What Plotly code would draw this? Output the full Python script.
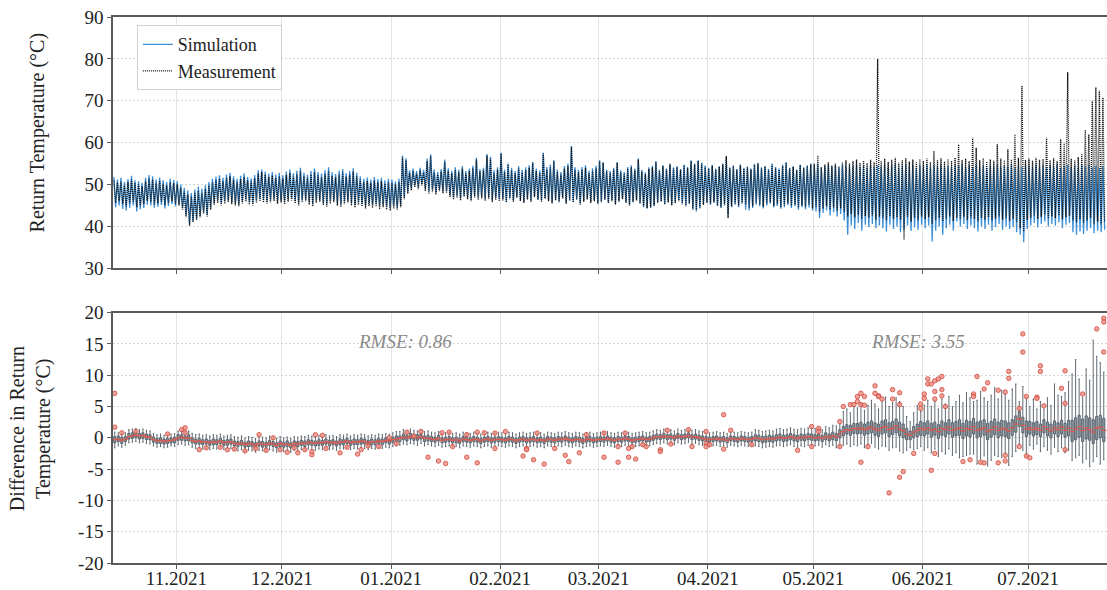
import pandas as pd
import plotly.graph_objects as go

# ---------------------------------------------------------------------------
# Daily data, 14.10.2021 - 22.07.2022 (one entry per day)
# ---------------------------------------------------------------------------
start_day = "2021-10-14"
n_days = 282

month_ticks = ["2021-11-01", "2021-12-01", "2022-01-01", "2022-02-01", "2022-03-01",
               "2022-04-01", "2022-05-01", "2022-06-01", "2022-07-01"]
month_labels = ["11.2021", "12.2021", "01.2021", "02.2021", "03.2021",
                "04.2021", "05.2021", "06.2021", "07.2021"]

# daily maximum / minimum of the measured return temperature (degC)
meas_hi = [
    51.0, 50.5, 50.8, 49.8, 50.6, 51.2, 50.4, 50.0, 49.6, 50.8, 51.5, 51.2, 50.4, 50.9, 50.2, 49.8, 50.6, 50.3,
    50.0, 49.2, 48.3, 47.6, 47.2, 47.9, 48.5, 48.0, 49.0, 49.8, 50.6, 51.0, 51.4, 50.8, 51.6, 52.0, 51.2, 50.6, 51.3, 51.8, 51.0, 50.7, 51.5, 52.6, 53.0, 52.4, 51.8, 52.2, 51.6, 52.0,
    51.4, 52.3, 52.8, 51.9, 52.5, 53.2, 52.0, 51.6, 52.4, 53.0, 52.2, 51.8, 52.6, 53.3, 52.1, 51.7, 52.5, 52.9, 51.9, 52.4, 53.1, 52.0, 51.2, 50.6, 50.9, 50.4, 51.0, 50.5, 50.8, 50.2, 50.6,
    50.4, 50.0, 50.6, 56.5, 55.8, 52.8, 53.2, 52.6, 53.4, 52.9, 55.6, 56.8, 53.0, 52.4, 53.1, 55.4, 53.3, 52.7, 53.5, 52.9, 53.8, 52.6, 53.2, 53.9, 56.0, 53.1, 53.4, 56.9, 56.2, 52.8, 53.5,
    57.4, 53.0, 54.8, 53.4, 52.6, 53.8, 52.9, 53.5, 54.0, 55.2, 53.2, 52.8, 57.4, 53.6, 54.2, 55.6, 53.0, 52.4, 53.8, 54.4, 59.0, 53.5, 52.9, 53.6, 54.0, 52.7, 53.3, 53.9,
    55.6, 55.2, 53.2, 52.8, 53.6, 55.2, 53.0, 52.6, 53.8, 54.2, 53.4, 56.0, 53.1, 52.5, 53.7, 54.1, 55.4, 53.2, 54.4, 53.6, 54.8, 53.9, 54.2, 53.5, 54.6, 54.0, 55.6, 54.8, 55.6, 55.0, 54.3,
    53.8, 54.5, 53.6, 54.2, 54.8, 56.8, 53.9, 54.4, 53.5, 54.6, 53.8, 54.1, 53.6, 54.7, 55.0, 53.9, 54.3, 53.5, 54.8, 54.0, 53.6, 54.5, 55.2, 53.8, 54.2, 53.4, 54.6, 53.9, 54.4, 54.8,
    55.0, 57.0, 54.2, 54.8, 55.3, 54.6, 55.0, 54.4, 55.4, 55.8, 55.0, 55.6, 56.0, 55.2, 55.7, 55.1, 55.9, 55.4, 80.0, 55.6, 56.2, 55.4, 55.9, 56.4, 55.2, 55.8, 56.3, 55.5, 56.0, 55.3, 56.1,
    55.6, 56.2, 55.4, 58.0, 55.8, 56.3, 55.5, 56.1, 55.7, 56.4, 59.6, 55.9, 56.2, 55.6, 61.2, 58.8, 55.8, 56.3, 55.5, 56.0, 55.7, 59.6, 56.2, 55.8, 58.4, 56.0, 62.0, 56.4, 73.6, 55.9,
    56.2, 55.7, 56.4, 55.9, 56.1, 61.2, 55.8, 56.3, 55.6, 60.8, 60.0, 76.8, 56.2, 55.8, 56.6, 57.2, 63.0, 62.0, 70.0, 73.2, 72.4, 70.8,
]
meas_lo = [
    45.6, 46.0, 45.4, 44.8, 45.5, 45.9, 44.6, 45.0, 45.3, 46.1, 45.8, 45.2, 45.5, 45.9, 45.1, 45.6, 46.0, 45.4,
    45.0, 44.0, 42.2, 40.2, 41.0, 41.6, 42.2, 43.0, 42.4, 44.0, 45.2, 45.6, 45.0, 45.4, 45.8, 45.3, 45.0, 44.8, 45.5, 45.9, 45.2, 45.0, 45.6, 46.0, 45.7, 45.5, 45.8, 46.1, 45.4, 45.7,
    45.3, 45.9, 46.2, 45.5, 45.0, 45.8, 46.0, 45.2, 44.8, 45.6, 45.9, 45.1, 44.7, 45.4, 45.8, 45.0, 44.6, 45.3, 45.7, 45.0, 44.5, 45.2, 44.8, 44.3, 44.9, 44.4, 44.7, 44.2, 44.6, 44.0, 43.8,
    44.2, 43.9, 44.6, 46.5, 47.8, 48.6, 49.4, 48.9, 49.8, 48.5, 47.8, 48.2, 47.6, 48.4, 47.9, 48.0, 47.0, 46.4, 46.8, 46.2, 47.1, 46.5, 46.0, 46.9, 46.3, 46.7, 46.1, 46.6, 45.8, 46.4, 46.0,
    46.2, 45.7, 46.5, 45.9, 46.8, 46.1, 45.6, 46.4, 45.8, 47.0, 46.3, 45.9, 46.6, 46.0, 45.5, 46.2, 45.8, 46.7, 45.4, 46.1, 45.7, 46.3, 45.2, 45.9, 46.4, 45.6, 46.0, 45.3,
    45.8, 46.4, 45.5, 46.0, 45.2, 45.9, 46.5, 45.6, 45.0, 45.8, 46.2, 45.4, 44.8, 44.4, 44.6, 45.0, 45.6, 45.9, 45.2, 45.7, 45.0, 45.5, 46.0, 45.3, 44.8, 45.4, 44.2, 44.0, 44.5, 45.1, 45.6,
    45.4, 45.9, 45.0, 44.6, 45.3, 42.0, 44.8, 45.5, 45.0, 45.7, 45.2, 44.4, 44.8, 45.6, 45.1, 44.7, 45.4, 45.8, 44.9, 45.3, 44.6, 45.0, 45.5, 44.8, 45.2, 44.5, 45.0, 44.6, 45.1, 44.3,
    44.6, 43.4, 44.2, 44.8, 44.0, 44.5, 43.8, 44.3, 43.5, 42.4, 43.0, 42.2, 42.8, 41.8, 42.5, 42.0, 42.6, 41.6, 42.3, 42.0, 41.5, 42.4, 41.8, 42.2, 41.6, 36.8, 42.3, 41.2, 42.0, 41.5, 42.4,
    41.8, 42.2, 40.6, 41.5, 42.0, 41.2, 41.8, 42.4, 41.3, 42.0, 41.7, 42.3, 41.5, 42.1, 41.8, 41.2, 42.0, 41.6, 42.2, 41.4, 41.9, 42.3, 41.6, 42.0, 41.3, 41.8, 41.0, 39.5, 38.8, 41.6,
    42.0, 42.5, 41.8, 42.3, 42.8, 41.9, 42.4, 42.0, 42.6, 41.7, 42.2, 42.5, 41.5, 41.0, 41.8, 40.8, 41.4, 42.0, 40.6, 41.2, 40.5, 41.0,
]

# daily maximum / minimum of the simulated return temperature (degC)
sim_hi = [
    51.8, 51.2, 51.6, 50.6, 51.3, 52.1, 51.0, 50.8, 50.4, 51.6, 52.3, 52.0, 51.2, 51.7, 51.0, 50.6, 51.4, 51.1,
    50.8, 50.0, 49.2, 48.6, 48.0, 48.8, 49.5, 49.0, 49.8, 50.6, 51.4, 51.9, 52.2, 51.6, 52.4, 52.8, 52.0, 51.4, 52.1, 52.6, 51.8, 51.5, 52.3, 53.4, 53.6, 53.1, 52.6, 53.0, 52.4, 52.8,
    52.2, 53.1, 53.6, 52.7, 53.3, 54.0, 52.8, 52.4, 53.2, 53.8, 53.0, 52.6, 53.4, 54.1, 52.9, 52.5, 53.3, 53.7, 52.7, 53.2, 53.9, 52.8, 52.0, 51.4, 51.7, 51.2, 51.8, 51.3, 51.6, 51.0, 51.4,
    51.2, 50.8, 51.4, 56.9, 56.3, 53.4, 53.8, 53.2, 54.0, 53.5, 56.2, 57.2, 53.6, 53.0, 53.7, 56.0, 53.9, 53.3, 54.1, 53.5, 54.4, 53.2, 53.8, 54.5, 56.4, 53.7, 54.0, 57.3, 56.6, 53.4, 54.1,
    57.6, 53.6, 55.0, 54.0, 53.2, 54.4, 53.5, 54.1, 54.6, 55.4, 53.8, 53.4, 57.6, 54.2, 54.8, 55.8, 53.6, 53.0, 54.4, 55.0, 59.2, 54.1, 53.5, 54.2, 54.6, 53.3, 53.9, 54.5,
    55.8, 55.4, 53.6, 53.2, 54.0, 55.4, 53.4, 53.0, 54.2, 54.6, 53.8, 56.2, 53.5, 52.9, 54.1, 54.5, 55.6, 53.6, 54.6, 53.8, 55.0, 54.1, 54.4, 53.7, 54.8, 54.2, 55.8, 55.0, 55.8, 55.2, 54.5,
    54.0, 54.7, 53.8, 54.4, 55.0, 56.4, 54.1, 54.6, 53.7, 54.8, 54.0, 54.3, 53.8, 54.9, 55.2, 54.1, 54.5, 53.7, 55.0, 54.2, 53.8, 54.7, 55.4, 54.0, 54.4, 53.6, 54.8, 54.1, 54.6, 55.0,
    54.6, 55.0, 54.0, 54.5, 54.8, 54.2, 54.6, 54.0, 54.8, 54.4, 54.0, 54.5, 54.8, 54.1, 54.6, 54.0, 54.7, 54.2, 54.6, 54.3, 54.8, 54.1, 54.6, 54.9, 54.0, 54.5, 54.8, 54.2, 54.6, 54.0, 54.7,
    54.3, 54.8, 54.0, 54.6, 54.2, 54.9, 54.1, 54.5, 54.0, 54.7, 54.4, 54.9, 54.2, 54.6, 54.1, 54.8, 54.3, 54.6, 54.0, 54.5, 54.2, 54.8, 54.1, 54.6, 54.3, 54.9, 54.0, 54.4, 54.2, 54.7,
    54.5, 54.0, 54.8, 54.2, 54.6, 54.1, 54.7, 54.3, 54.9, 54.0, 54.5, 54.8, 54.2, 54.6, 54.0, 54.7, 54.3, 54.8, 54.1, 54.5, 54.0, 54.4,
]
sim_lo = [
    44.6, 45.0, 44.2, 43.8, 44.5, 45.0, 43.6, 44.1, 44.4, 45.2, 45.0, 44.5, 44.7, 45.1, 44.3, 44.9, 45.3, 44.8,
    45.4, 44.6, 42.8, 40.6, 41.2, 41.8, 42.6, 43.4, 42.8, 44.6, 45.8, 46.2, 45.6, 46.0, 46.4, 45.9, 45.6, 45.4, 46.1, 46.5, 45.8, 45.6, 46.2, 46.6, 46.3, 46.1, 46.4, 46.7, 46.0, 46.3,
    46.0, 46.5, 46.8, 46.1, 45.7, 46.4, 46.6, 45.9, 45.5, 46.2, 46.5, 45.8, 45.4, 46.0, 46.4, 45.7, 45.3, 46.0, 46.3, 45.7, 45.2, 45.9, 45.5, 45.0, 45.6, 45.1, 45.4, 44.9, 45.3, 44.8, 44.6,
    44.8, 44.5, 45.2, 47.0, 48.3, 49.2, 49.9, 49.4, 50.2, 49.0, 48.4, 48.8, 48.1, 48.9, 48.4, 48.5, 47.6, 47.0, 47.4, 46.8, 47.6, 47.0, 46.6, 47.4, 46.9, 47.2, 46.6, 47.1, 46.4, 46.9, 46.5,
    46.5, 46.0, 46.8, 46.2, 47.0, 46.4, 45.9, 46.6, 46.1, 47.2, 46.5, 46.2, 46.8, 46.3, 45.8, 46.5, 46.0, 46.9, 45.7, 46.4, 46.0, 46.5, 45.5, 46.2, 46.6, 45.9, 46.3, 45.6,
    46.0, 46.6, 45.8, 46.2, 45.5, 46.1, 46.7, 45.9, 45.2, 46.0, 46.4, 45.6, 44.6, 44.2, 44.4, 44.8, 45.8, 46.1, 45.4, 45.9, 45.2, 45.7, 46.2, 45.5, 45.0, 45.6, 44.0, 43.6, 44.3, 45.3, 45.8,
    45.2, 45.6, 44.8, 44.4, 45.0, 43.0, 44.6, 45.2, 44.6, 45.4, 44.0, 43.8, 44.4, 45.2, 44.8, 44.3, 45.0, 45.4, 44.5, 44.9, 44.2, 44.6, 45.1, 44.4, 44.8, 44.0, 44.6, 44.1, 44.5, 43.8,
    43.6, 42.0, 43.2, 43.8, 42.6, 43.4, 42.4, 43.0, 41.4, 38.0, 40.2, 39.4, 40.8, 39.0, 40.4, 39.8, 40.6, 39.6, 40.2, 39.6, 38.8, 40.4, 39.4, 40.0, 38.6, 39.2, 40.2, 38.9, 39.8, 39.2, 40.4,
    39.6, 40.2, 36.4, 39.0, 40.0, 38.0, 39.6, 40.4, 39.0, 41.2, 40.0, 40.6, 39.4, 40.2, 39.6, 38.8, 40.0, 39.4, 40.4, 39.0, 39.8, 40.6, 39.2, 40.0, 39.4, 39.8, 38.6, 38.0, 36.2, 39.4,
    40.2, 40.8, 39.8, 40.6, 41.2, 40.0, 40.6, 40.2, 41.0, 39.6, 40.4, 40.8, 38.6, 38.0, 38.8, 38.2, 39.0, 39.6, 38.4, 39.0, 38.6, 39.2,
]

# daily distribution of the temperature difference (degC): quartiles and whiskers
diff_median = [
    -0.3, -0.2, -0.4, -0.2, 0.2, 0.3, 0.4, 0.3, 0.4, 0.2, 0.1, -0.3, -0.5, -0.4, -0.6, -0.5, -0.4, -0.3,
    0.0, 0.1, -0.1, 0.0, -0.4, -0.6, -0.5, -0.7, -0.6, -0.8, -0.6, -0.7, -0.5, -0.8, -0.7, -0.6, -0.9, -1.0, -0.8, -1.1, -0.9, -1.0, -1.2, -0.9, -1.0, -1.1, -0.8, -1.0, -1.2, -0.9,
    -1.1, -1.0, -1.2, -0.9, -1.0, -0.8, -0.9, -0.7, -0.8, -0.9, -0.7, -0.8, -0.6, -0.8, -0.7, -0.9, -0.6, -0.7, -0.5, -0.8, -0.6, -0.7, -0.5, -0.6, -0.8, -0.6, -0.7, -0.5, -0.6, -0.4, -0.5,
    -0.3, -0.2, -0.1, 0.1, 0.0, 0.2, 0.1, 0.0, 0.2, -0.1, 0.0, -0.2, -0.3, -0.1, -0.4, -0.3, -0.2, -0.4, -0.3, -0.5, -0.2, -0.3, -0.4, -0.2, -0.3, -0.5, -0.3, -0.2, -0.4, -0.3, -0.2,
    -0.3, -0.4, -0.2, -0.3, -0.5, -0.3, -0.2, -0.4, -0.3, -0.2, -0.4, -0.3, -0.5, -0.2, -0.3, -0.4, -0.2, -0.3, -0.1, -0.3, -0.4, -0.2, -0.3, -0.5, -0.3, -0.2, -0.4, -0.3,
    -0.2, -0.3, -0.1, -0.3, -0.4, -0.2, -0.3, -0.1, -0.2, -0.4, -0.3, -0.2, -0.1, -0.3, -0.2, 0.0, 0.2, 0.1, 0.3, 0.1, 0.2, 0.0, 0.3, 0.1, 0.2, 0.4, 0.1, 0.2, 0.0, -0.1, -0.2,
    -0.3, -0.2, -0.1, -0.3, -0.2, -0.4, -0.1, -0.2, -0.3, -0.1, -0.2, -0.3, -0.2, 0.0, -0.1, -0.3, -0.2, -0.1, -0.2, 0.0, 0.1, -0.1, 0.0, 0.2, 0.0, -0.1, 0.1, 0.0, 0.2, 0.1,
    0.0, 0.1, -0.1, 0.2, 0.0, 0.3, 0.1, 0.6, 1.0, 1.3, 1.2, 1.5, 1.4, 1.6, 1.3, 1.5, 1.7, 1.4, 1.2, 1.6, 1.8, 1.3, 1.5, 1.9, 1.4, 1.1, 0.6, 0.4, 0.9, 1.2, 1.5,
    1.3, 1.6, 1.2, 1.4, 1.0, 1.5, 1.3, 1.7, 1.2, 1.4, 1.6, 1.1, 1.5, 1.3, 1.8, 1.2, 1.4, 1.6, 1.0, 1.3, 1.7, 1.2, 1.5, 1.4, 1.1, 1.6, 2.2, 3.0, 2.0, 1.4,
    1.6, 1.3, 1.5, 1.2, 1.8, 1.4, 1.1, 1.6, 1.3, 1.7, 1.2, 1.5, 1.0, 1.4, 1.8, 1.2, 1.6, 1.3, 0.9, 1.5, 1.7, 1.2,
]
diff_q1 = [
    -0.8, -0.6, -0.9, -0.6, -0.2, -0.1, 0.0, -0.2, -0.1, -0.3, -0.3, -0.7, -0.9, -0.9, -1.0, -0.9, -0.8, -0.8,
    -0.4, -0.4, -0.5, -0.5, -0.8, -1.0, -1.0, -1.1, -1.0, -1.2, -1.1, -1.1, -0.9, -1.2, -1.2, -1.0, -1.3, -1.4, -1.2, -1.5, -1.4, -1.4, -1.6, -1.3, -1.5, -1.5, -1.2, -1.4, -1.6, -1.4,
    -1.5, -1.4, -1.6, -1.4, -1.4, -1.2, -1.4, -1.1, -1.2, -1.3, -1.2, -1.2, -1.0, -1.3, -1.1, -1.3, -1.1, -1.1, -0.9, -1.2, -1.1, -1.1, -1.0, -1.0, -1.2, -1.1, -1.1, -0.9, -1.1, -0.8, -1.0,
    -0.7, -0.6, -0.6, -0.3, -0.5, -0.2, -0.4, -0.4, -0.2, -0.6, -0.5, -0.6, -0.7, -0.5, -0.8, -0.7, -0.6, -0.8, -0.8, -0.9, -0.6, -0.7, -0.8, -0.6, -0.7, -0.9, -0.7, -0.6, -0.8, -0.7, -0.6,
    -0.7, -0.8, -0.6, -0.7, -0.9, -0.7, -0.6, -0.8, -0.7, -0.6, -0.8, -0.7, -0.9, -0.6, -0.7, -0.8, -0.6, -0.7, -0.5, -0.7, -0.8, -0.6, -0.7, -0.9, -0.7, -0.6, -0.8, -0.7,
    -0.6, -0.7, -0.5, -0.7, -0.8, -0.6, -0.7, -0.5, -0.6, -0.8, -0.7, -0.6, -0.5, -0.7, -0.6, -0.4, -0.2, -0.3, -0.1, -0.3, -0.2, -0.4, -0.1, -0.3, -0.2, 0.0, -0.3, -0.2, -0.4, -0.5, -0.6,
    -0.7, -0.6, -0.5, -0.7, -0.6, -0.8, -0.5, -0.6, -0.7, -0.5, -0.6, -0.7, -0.6, -0.5, -0.6, -0.8, -0.7, -0.6, -0.7, -0.5, -0.4, -0.6, -0.5, -0.3, -0.5, -0.6, -0.4, -0.5, -0.3, -0.4,
    -0.5, -0.4, -0.6, -0.3, -0.5, -0.3, -0.5, 0.0, 0.3, 0.6, 0.4, 0.7, 0.6, 0.7, 0.4, 0.6, 0.8, 0.4, 0.2, 0.6, 0.8, 0.2, 0.5, 0.8, 0.3, 0.0, -0.3, -0.3, 0.0, 0.2, 0.4,
    0.3, 0.6, 0.1, 0.4, -0.1, 0.4, 0.2, 0.6, 0.1, 0.3, 0.4, -0.1, 0.3, 0.1, 0.6, 0.0, 0.2, 0.4, -0.3, 0.1, 0.5, 0.0, 0.3, 0.2, -0.1, 0.4, 0.9, 1.8, 0.8, 0.2,
    0.6, 0.3, 0.5, 0.2, 0.8, 0.3, 0.0, 0.6, 0.2, 0.6, 0.1, 0.3, -0.6, -0.3, 0.1, -0.6, -0.2, -0.4, -0.9, -0.3, 0.0, -0.6,
]
diff_q3 = [
    0.2, 0.3, 0.1, 0.2, 0.7, 0.8, 0.9, 0.7, 0.8, 0.6, 0.5, 0.1, -0.1, 0.0, -0.2, -0.1, 0.0, 0.1,
    0.5, 0.5, 0.3, 0.5, 0.0, -0.2, -0.1, -0.3, -0.2, -0.4, -0.2, -0.3, -0.1, -0.4, -0.3, -0.2, -0.5, -0.6, -0.4, -0.7, -0.5, -0.6, -0.8, -0.5, -0.6, -0.7, -0.4, -0.6, -0.8, -0.5,
    -0.7, -0.5, -0.8, -0.5, -0.6, -0.4, -0.5, -0.3, -0.4, -0.5, -0.3, -0.4, -0.2, -0.4, -0.3, -0.5, -0.2, -0.3, -0.1, -0.4, -0.2, -0.3, -0.1, -0.2, -0.4, -0.2, -0.3, -0.1, -0.2, 0.0, -0.1,
    0.1, 0.3, 0.3, 0.6, 0.4, 0.7, 0.5, 0.5, 0.6, 0.3, 0.4, 0.2, 0.1, 0.4, 0.0, 0.1, 0.2, 0.0, 0.1, -0.1, 0.2, 0.1, 0.0, 0.2, 0.1, -0.1, 0.1, 0.2, 0.0, 0.1, 0.2,
    0.1, 0.0, 0.2, 0.1, -0.1, 0.1, 0.2, 0.0, 0.1, 0.2, 0.0, 0.1, -0.1, 0.2, 0.1, 0.0, 0.2, 0.1, 0.3, 0.1, 0.0, 0.2, 0.1, -0.1, 0.1, 0.2, 0.0, 0.1,
    0.2, 0.1, 0.3, 0.1, 0.0, 0.2, 0.1, 0.3, 0.2, 0.0, 0.1, 0.2, 0.3, 0.1, 0.2, 0.4, 0.6, 0.5, 0.7, 0.5, 0.6, 0.4, 0.7, 0.5, 0.6, 0.8, 0.5, 0.6, 0.4, 0.3, 0.2,
    0.1, 0.2, 0.3, 0.1, 0.2, 0.0, 0.3, 0.2, 0.1, 0.3, 0.2, 0.1, 0.2, 0.5, 0.4, 0.2, 0.3, 0.4, 0.3, 0.5, 0.6, 0.4, 0.5, 0.7, 0.5, 0.4, 0.6, 0.5, 0.7, 0.6,
    0.5, 0.6, 0.4, 0.8, 0.6, 0.9, 0.7, 1.3, 1.8, 2.1, 2.0, 2.3, 2.3, 2.5, 2.2, 2.5, 2.7, 2.4, 2.2, 2.7, 2.9, 2.4, 2.6, 3.0, 2.5, 2.2, 1.5, 1.1, 1.8, 2.2, 2.6,
    2.4, 2.7, 2.3, 2.5, 2.1, 2.7, 2.4, 2.9, 2.4, 2.6, 2.9, 2.3, 2.8, 2.6, 3.1, 2.5, 2.7, 2.9, 2.3, 2.6, 3.0, 2.5, 2.8, 2.7, 2.4, 2.9, 3.5, 4.2, 3.3, 2.7,
    2.6, 2.4, 2.6, 2.2, 2.9, 2.5, 2.2, 2.7, 2.4, 2.8, 2.3, 2.8, 2.8, 3.2, 3.6, 3.0, 3.5, 3.2, 2.9, 3.4, 3.6, 3.1,
]
diff_low = [
    -1.6, -1.3, -1.5, -1.2, -0.8, -0.7, -0.6, -0.8, -0.7, -0.9, -1.0, -1.3, -1.5, -1.4, -1.6, -1.5, -1.3, -1.4,
    -1.1, -1.0, -1.2, -1.1, -1.5, -1.7, -1.6, -1.8, -1.7, -1.9, -1.7, -1.8, -1.6, -1.9, -1.8, -1.7, -2.0, -2.1, -1.9, -2.2, -2.0, -2.1, -2.3, -2.0, -2.1, -2.2, -1.9, -2.1, -2.3, -2.0,
    -2.2, -2.1, -2.3, -2.0, -2.1, -1.9, -2.0, -1.8, -1.9, -2.0, -1.8, -1.9, -1.7, -1.9, -1.8, -2.0, -1.7, -1.8, -1.6, -1.9, -1.7, -1.8, -1.6, -1.7, -1.9, -1.7, -1.8, -1.6, -1.7, -1.5, -1.6,
    -1.4, -1.3, -1.2, -1.0, -1.1, -0.9, -1.0, -1.2, -0.9, -1.3, -1.1, -1.3, -1.4, -1.2, -1.5, -1.4, -1.3, -1.5, -1.4, -1.6, -1.3, -1.4, -1.5, -1.3, -1.4, -1.6, -1.4, -1.3, -1.5, -1.4, -1.3,
    -1.4, -1.5, -1.3, -1.4, -1.6, -1.4, -1.3, -1.5, -1.4, -1.3, -1.5, -1.4, -1.6, -1.3, -1.4, -1.5, -1.3, -1.4, -1.2, -1.4, -1.5, -1.3, -1.4, -1.6, -1.4, -1.3, -1.5, -1.4,
    -1.3, -1.4, -1.2, -1.4, -1.5, -1.3, -1.4, -1.2, -1.3, -1.5, -1.4, -1.3, -1.2, -1.4, -1.3, -1.1, -0.9, -1.0, -0.8, -1.0, -0.9, -1.1, -0.8, -1.0, -0.9, -0.7, -1.0, -0.9, -1.1, -1.2, -1.3,
    -1.4, -1.3, -1.2, -1.4, -1.3, -1.5, -1.2, -1.3, -1.4, -1.2, -1.3, -1.4, -1.3, -1.3, -1.4, -1.6, -1.5, -1.4, -1.5, -1.3, -1.2, -1.4, -1.3, -1.1, -1.4, -1.5, -1.3, -1.4, -1.2, -1.4,
    -1.3, -1.2, -1.5, -1.1, -1.4, -1.2, -1.6, -1.5, -1.2, -1.0, -1.4, -1.1, -1.3, -1.0, -1.6, -1.2, -0.9, -1.5, -1.8, -1.3, -1.4, -2.0, -1.6, -1.5, -2.1, -2.4, -2.0, -1.6, -1.9, -1.7, -1.4,
    -2.0, -1.6, -2.4, -1.8, -3.0, -2.2, -2.6, -1.8, -2.8, -2.4, -3.2, -3.0, -2.8, -2.6, -2.6, -4.2, -3.4, -2.9, -4.5, -3.6, -2.8, -3.0, -3.2, -2.5, -4.4, -3.0, -2.2, -1.0, -2.0, -3.0,
    -1.2, -1.8, -1.0, -2.2, -1.4, -2.0, -2.6, -1.5, -2.2, -1.6, -2.4, -2.0, -3.6, -3.2, -2.8, -4.0, -3.4, -4.6, -3.8, -3.0, -4.2, -3.5,
]
diff_high = [
    0.9, 0.8, 0.7, 0.8, 1.3, 1.4, 1.5, 1.3, 1.4, 1.2, 1.1, 0.7, 0.5, 0.6, 0.4, 0.5, 0.6, 0.7,
    1.1, 1.2, 1.0, 1.1, 0.7, 0.5, 0.6, 0.4, 0.5, 0.3, 0.5, 0.4, 0.6, 0.3, 0.4, 0.5, 0.2, 0.1, 0.3, 0.0, 0.2, 0.1, -0.1, 0.2, 0.1, 0.0, 0.3, 0.1, -0.1, 0.2,
    0.0, 0.1, -0.1, 0.2, 0.1, 0.3, 0.2, 0.4, 0.3, 0.2, 0.4, 0.3, 0.5, 0.3, 0.4, 0.2, 0.5, 0.4, 0.6, 0.3, 0.5, 0.4, 0.6, 0.5, 0.3, 0.5, 0.4, 0.6, 0.5, 0.7, 0.6,
    0.8, 1.0, 1.0, 1.3, 1.1, 1.4, 1.2, 1.1, 1.3, 1.0, 1.1, 0.9, 0.8, 1.0, 0.7, 0.8, 0.9, 0.7, 0.8, 0.6, 0.9, 0.8, 0.7, 0.9, 0.8, 0.6, 0.8, 0.9, 0.7, 0.8, 0.9,
    0.8, 0.7, 0.9, 0.8, 0.6, 0.8, 0.9, 0.7, 0.8, 0.9, 0.7, 0.8, 0.6, 0.9, 0.8, 0.7, 0.9, 0.8, 1.0, 0.8, 0.7, 0.9, 0.8, 0.6, 0.8, 0.9, 0.7, 0.8,
    0.9, 0.8, 1.0, 0.8, 0.7, 0.9, 0.8, 1.0, 0.9, 0.7, 0.8, 0.9, 1.0, 0.8, 0.9, 1.1, 1.3, 1.2, 1.4, 1.2, 1.3, 1.1, 1.4, 1.2, 1.3, 1.5, 1.2, 1.3, 1.1, 1.0, 0.9,
    0.8, 0.9, 1.0, 0.8, 0.9, 0.7, 1.0, 0.9, 0.8, 1.0, 0.9, 0.8, 0.9, 1.3, 1.2, 1.0, 1.1, 1.2, 1.1, 1.4, 1.5, 1.3, 1.4, 1.6, 1.4, 1.3, 1.5, 1.4, 1.6, 1.5,
    1.5, 1.6, 1.3, 1.8, 1.6, 2.0, 1.9, 2.2, 4.2, 4.6, 4.0, 5.0, 4.8, 5.6, 4.4, 5.2, 6.0, 5.4, 4.6, 5.8, 6.5, 5.0, 5.6, 6.4, 5.8, 5.0, 3.4, 2.6, 4.0, 5.2, 4.2,
    5.2, 6.0, 5.0, 5.8, 4.6, 6.2, 5.4, 6.6, 5.0, 5.8, 6.8, 5.6, 7.2, 6.4, 5.8, 6.0, 7.4, 6.4, 5.8, 6.8, 8.0, 6.2, 7.6, 7.0, 6.0, 7.8, 8.6, 5.8, 8.2, 6.4,
    5.0, 6.2, 4.6, 5.8, 4.6, 6.4, 5.2, 8.6, 6.8, 6.6, 7.2, 9.0, 10.2, 12.5, 9.4, 6.4, 11.0, 9.2, 15.6, 13.0, 12.0, 10.5,
]

# individual outliers: day number (0 = 14.10.2021) and difference (degC)
outlier_day = [
    0, 0, 2, 6, 15, 19, 20, 20, 24, 26, 30, 32, 34, 37, 40, 41, 43, 45, 47, 49,
    51, 52, 54, 56, 56, 57, 59, 60, 64, 66, 69, 70, 72, 75, 78, 80, 83, 85, 87, 89,
    92, 93, 94, 95, 96, 100, 100, 103, 103, 105, 108, 108, 111, 116, 117, 117, 119, 120, 122, 125,
    128, 129, 132, 134, 139, 139, 143, 143, 145, 146, 146, 147, 148, 150, 151, 155, 155, 157, 158, 163,
    164, 168, 168, 168, 169, 173, 173, 175, 181, 194, 198, 198, 200, 200, 206, 206, 207, 209, 210, 211,
    211, 212, 212, 212, 213, 213, 214, 216, 216, 217, 217, 218, 220, 221, 221, 223, 223, 223, 224, 227,
    229, 229, 230, 230, 231, 231, 232, 232, 233, 233, 233, 233, 234, 235, 235, 235, 236, 241, 243, 244,
    244, 245, 246, 247, 247, 248, 251, 251, 253, 253, 253, 254, 254, 257, 257, 258, 258, 259, 259, 260,
    262, 262, 263, 263, 264, 269, 270, 270, 270, 275, 279, 281, 281, 281,
]
outlier_value = [
    7.1, 1.7, 0.8, 1.0, 0.6, 1.3, 1.6, 0.8, -1.9, -1.6, -1.5, -1.9, -1.8, -2.1, -1.7, 0.5, -2.0, 0.0, -1.9, -2.3,
    -1.6, -2.4, -1.9, -2.7, -2.2, 0.5, 0.4, -1.7, -2.4, -1.5, -2.6, -1.9, -1.3, -1.4, 0.0, -0.9, 0.9, 0.3, 1.0, -3.1,
    -3.7, 0.8, -4.1, 0.9, -1.4, -3.1, 0.5, -4.0, 0.9, 0.8, -1.7, 0.75, 1.0, -2.9, -1.7, -1.9, -3.5, 0.75, -4.2, -1.7,
    -2.8, -3.8, -2.4, 0.5, -3.1, 0.75, -1.4, -3.9, 0.75, -1.7, -3.1, -1.4, -3.4, -1.1, -1.4, -1.9, -2.2, 1.2, -1.0, 1.3,
    -1.4, 1.0, -0.9, -1.4, -1.1, 3.7, -1.8, 1.2, -1.1, -2.0, -1.4, 1.8, 1.5, 1.0, -1.4, 2.6, 5.0, 5.3, 5.3, 6.6,
    5.8, 7.1, -3.9, 5.3, 6.6, 5.2, -1.4, 8.3, 7.1, 6.7, 6.6, 6.2, -8.8, 7.7, 6.2, 5.3, 7.2, -6.3, -5.4, -2.5,
    4.7, 5.4, 6.3, 7.0, 9.4, 8.6, 8.6, -5.2, 9.1, -2.5, 7.4, 6.2, 9.4, 9.8, 7.7, 6.7, 5.0, -3.8, -3.5, 7.0,
    6.6, 9.8, -3.9, 7.8, -4.0, 8.8, 7.6, -4.0, 7.3, -2.8, -3.7, 10.6, 9.5, 4.7, -1.4, 16.6, 13.7, 6.6, -2.9, -3.2,
    6.5, 6.3, 11.5, 10.6, 5.1, 7.9, 10.7, 5.5, -1.9, 7.0, 17.4, 19.1, 18.5, 13.7,
]

rmse_winter = 0.86
rmse_summer = 3.55

# ---------------------------------------------------------------------------
days = pd.date_range(start_day, periods=n_days, freq="D")
noon = days + pd.Timedelta(hours=12)


def daily_swing(hi, lo):
    """Trace each day from its maximum (morning) to its minimum (evening)."""
    xs, ys = [], []
    for d, h, l in zip(days, hi, lo):
        xs += [d + pd.Timedelta(hours=6), d + pd.Timedelta(hours=18)]
        ys += [h, l]
    return xs, ys


sim_x, sim_y = daily_swing(sim_hi, sim_lo)
meas_x, meas_y = daily_swing(meas_hi, meas_lo)

FONT = "Liberation Serif"
AXIS_COLOR = "#5a5a5a"
TEXT_COLOR = "#222222"

fig = go.Figure()

fig.add_trace(go.Scatter(
    x=sim_x, y=sim_y, mode="lines", name="Simulation",
    line=dict(color="#3a8ed6", width=1.3), xaxis="x", yaxis="y",
))
fig.add_trace(go.Scatter(
    x=meas_x, y=meas_y, mode="lines", name="Measurement",
    line=dict(color="#111111", width=1.3, dash="1px,1px"), xaxis="x", yaxis="y",
))

fig.add_trace(go.Box(
    x=noon, q1=diff_q1, median=diff_median, q3=diff_q3,
    lowerfence=diff_low, upperfence=diff_high,
    boxpoints=False, width=0.62 * 86400000, whiskerwidth=0.6,
    fillcolor="#8f99a2", line=dict(color="#4f5a64", width=0.9),
    xaxis="x2", yaxis="y2", showlegend=False, hoverinfo="skip",
))
fig.add_trace(go.Scatter(
    x=noon, y=diff_median, mode="markers",
    marker=dict(symbol="line-ew", size=4, line=dict(color="#de5a50", width=1.3)),
    xaxis="x2", yaxis="y2", showlegend=False, hoverinfo="skip",
))
fig.add_trace(go.Scatter(
    x=[days[i] + pd.Timedelta(hours=12) for i in outlier_day], y=outlier_value,
    mode="markers",
    marker=dict(symbol="circle", size=4.5, color="rgba(238,140,130,0.8)",
                line=dict(color="#cf4a3e", width=0.8)),
    xaxis="x2", yaxis="y2", showlegend=False, hoverinfo="skip",
))

x_range = ["2021-10-14 00:00", "2022-07-23 10:00"]
common_x = dict(
    type="date", range=x_range, tickmode="array", tickvals=month_ticks,
    ticks="outside", ticklen=4, tickcolor=AXIS_COLOR,
    showline=True, linecolor=AXIS_COLOR, linewidth=1.5, mirror=True,
    showgrid=True, gridcolor="#e4e4e4", gridwidth=1, zeroline=False,
    automargin=False,
)
common_y = dict(
    ticks="outside", ticklen=4, tickcolor=AXIS_COLOR,
    showline=True, linecolor=AXIS_COLOR, linewidth=1.5,
    showgrid=True, gridcolor="#d4d4d4", griddash="2px,2px", gridwidth=1,
    zeroline=False, automargin=False, tickfont=dict(size=19, color=TEXT_COLOR),
)

y2_ticks = list(range(-20, 21, 5))

fig.update_layout(
    width=1107, height=590,
    margin=dict(l=113, r=0, t=17, b=27),
    paper_bgcolor="white", plot_bgcolor="white",
    font=dict(family=FONT, size=19, color=TEXT_COLOR),
    hovermode=False,
    xaxis=dict(common_x, anchor="y", showticklabels=False),
    yaxis=dict(common_y, domain=[0.5397, 1.0], range=[30, 90],
               tickvals=list(range(30, 91, 10)), anchor="x"),
    xaxis2=dict(common_x, anchor="y2", matches="x", showticklabels=True,
                ticktext=month_labels, ticklabelstandoff=-7,
                tickfont=dict(size=19, color=TEXT_COLOR)),
    yaxis2=dict(common_y, domain=[0.0, 0.4586], range=[-20, 20],
                tickvals=y2_ticks, ticktext=[str(v) for v in y2_ticks], anchor="x2"),
    legend=dict(
        x=0.024, y=0.985, xanchor="left", yanchor="top",
        bgcolor="white", bordercolor="#d0d0d0", borderwidth=1,
        font=dict(family=FONT, size=18, color=TEXT_COLOR),
        tracegroupgap=0, itemwidth=30,
    ),
    annotations=[
        dict(text="Return Temperature (°C)", x=-0.0755, y=0.7885, xref="paper", yref="paper",
             xanchor="center", yanchor="middle",
             textangle=-90, showarrow=False, font=dict(size=20, color=TEXT_COLOR)),
        dict(text="Difference in Return<br>Temperature (°C)", x=-0.0835, y=0.245,
             xref="paper", yref="paper", xanchor="center", yanchor="middle",
             textangle=-90, showarrow=False, font=dict(size=20, color=TEXT_COLOR)),
        dict(text=f"<i>RMSE: {rmse_winter:.2f}</i>", x=0.2938, y=0.4048, xref="paper", yref="paper",
             xanchor="center", yanchor="middle",
             showarrow=False, font=dict(size=19, color="#8a8a8a")),
        dict(text=f"<i>RMSE: {rmse_summer:.2f}</i>", x=0.8099, y=0.4048, xref="paper", yref="paper",
             xanchor="center", yanchor="middle",
             showarrow=False, font=dict(size=19, color="#8a8a8a")),
    ],
)

fig.write_html("out.html")
